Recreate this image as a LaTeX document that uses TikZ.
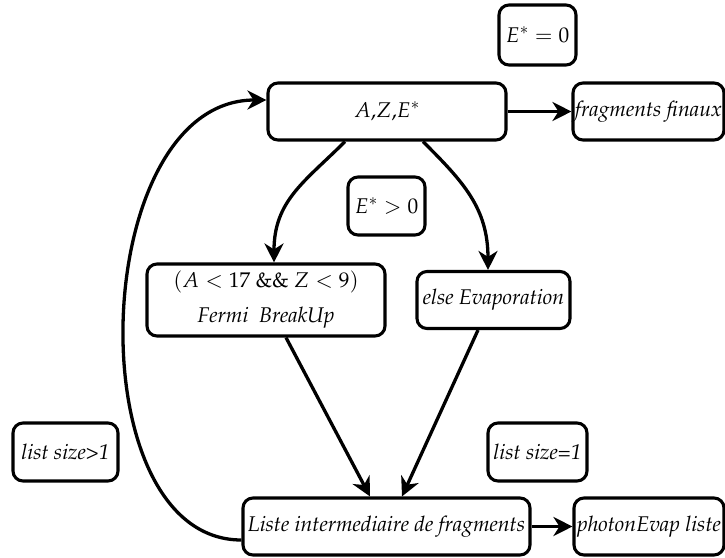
\documentclass[tikz,border=0pt]{standalone}
\usepackage[T1]{fontenc}
\usepackage{mathpazo}
\usetikzlibrary{arrows.meta,calc}
\tikzset{
  box/.style={draw=black, line width=3.1pt, rounded corners=10pt, inner sep=0pt,
    align=center, font=\fontsize{21.3}{25}\selectfont},
  conn/.style={line width=3.3pt, -{Stealth[length=19pt,width=19pt,inset=6pt]}}
}
\begin{document}
\begin{tikzpicture}[x={(1pt,0)}, y={(0,-1pt)}]
\useasboundingbox (0,0) rectangle (725,557);
\node[box, minimum width=77pt, minimum height=60pt] (e0) at (537.5,35) {$E^{*}=0$};
\node[box, minimum width=238pt, minimum height=57pt] (aze) at (387,111.5) {$A$,$Z$,$E^{*}$};
\node[box, minimum width=151pt, minimum height=57pt] (ff) at (648.5,111.5) {\textit{fragments finaux}};
\node[box, minimum width=77pt, minimum height=58pt] (e1) at (386.5,206) {$E^{*}>0$};
\node[box, minimum width=238pt, minimum height=72pt] (fermi) at (266,300) {$(A<17$ \&\& $Z<9)$\\[10pt]\textit{Fermi\ \ BreakUp}};
\node[box, minimum width=153pt, minimum height=57pt] (evap) at (493.5,300) {\textit{else Evaporation}};
\node[box, minimum width=105pt, minimum height=58pt] (ls1) at (65.5,452) {\textit{list size>1}};
\node[box, minimum width=99pt, minimum height=58pt] (lse) at (537.5,452) {\textit{list size=1}};
\node[box, minimum width=287pt, minimum height=57pt] (liste) at (386.5,526.5) {\textit{Liste intermediaire de fragments}};
\node[box, minimum width=150pt, minimum height=57pt] (ph) at (649,526.5) {\textit{photonEvap liste}};

\draw[conn] (aze.east) -- (ff.west);
\draw[conn] (liste.east) -- (ph.west);
\draw[conn] ($(aze.south)+(-42,0)$) .. controls ($(aze.south)+(-82,40)$) and ($(fermi.north)+(8,-62)$) .. ($(fermi.north)+(8,0)$);
\draw[conn] ($(aze.south)+(36,0)$) .. controls ($(aze.south)+(76,40)$) and ($(evap.north)+(-5.5,-62)$) .. ($(evap.north)+(-5.5,0)$);
\draw[conn] ($(fermi.south)+(20,0)$) -- ($(liste.north)+(-16.5,0)$);
\draw[conn] ($(evap.south)+(-15.5,0)$) -- ($(liste.north)+(15.5,0)$);
\draw[conn] ($(liste.west)+(0,13.5)$) .. controls (75,540) and (88,100) .. ($(aze.west)+(0,-11.5)$);
\end{tikzpicture}
\end{document}
